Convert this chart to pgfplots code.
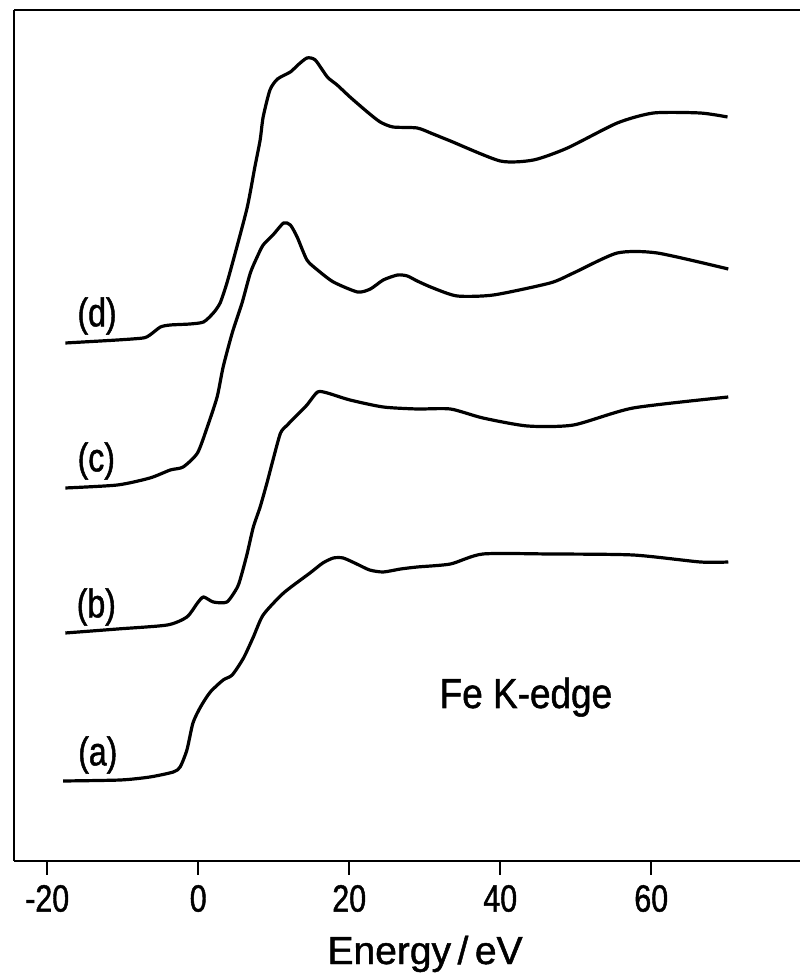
\documentclass[border=0pt]{standalone}
\usepackage{fontspec}
\setmainfont[FakeStretch=0.8, FakeBold=1.2]{Liberation Sans}
\newfontfamily\xlabfont[FakeStretch=1.0, FakeBold=1.2]{Liberation Sans}
\newfontfamily\fefont[FakeStretch=0.88, FakeBold=1.2]{Liberation Sans}
\usepackage{pgfplots}
\pgfplotsset{compat=1.18}
\pgfplotsset{curve/.style={black, line width=1.6pt, mark=none, smooth, tension=0.4}}
\begin{document}
\begin{tikzpicture}
\begin{axis}[name=ax,
  scale only axis, width=393pt, height=425.5pt,
  xmin=-24.4, xmax=79.7, ymin=0, ymax=851,
  axis x line*=box, axis y line*=left,
  axis line style={line width=1pt},
  xtick={-20,0,20,40,60}, xticklabels={-20,0,20,40,60},
  xtick pos=bottom, ytick=\empty,
  tick align=outside, major tick length=7pt,
  tick style={line width=1pt,black},
  xticklabel style={font=\fontsize{19}{21}\selectfont, yshift=-1.5pt},
  xlabel={Energy\,/\,eV},
  xlabel style={font=\xlabfont\fontsize{19.5}{21}\selectfont, at={(axis description cs:0.523,0)}, anchor=base, yshift=-51.5pt},
  clip=false
]
% (a)
\addplot[curve] coordinates {(-17.9,80) (-10.3,81) (-6.4,84) (-3.3,89) (-2.4,94) (-1.5,111) (-0.7,138) (0.3,154) (1.6,169) (3.3,181) (4.5,186) (6.0,203) (7.3,224) (8.6,246) (11.3,268) (14.8,288) (16.5,298) (17.9,303) (19.2,303) (21.0,297) (22.7,291) (24.5,289) (26.8,292) (29.0,294) (33.4,297) (37.7,307) (46.6,307) (57.6,306) (66.5,299) (70.2,299)};
% (b)
\addplot[curve] coordinates {(-17.6,228) (-10.7,232) (-4.1,236) (-1.5,244) (-0.1,258) (0.7,264) (2.0,259) (3.8,259) (5.2,274) (5.8,288) (6.5,308) (7.3,334) (8.2,354) (9.1,378) (9.9,401) (10.9,428) (11.8,436) (13.1,446) (14.4,456) (15.8,469) (17.1,468) (20.1,461) (24.5,454) (29.0,452) (33.4,452) (37.7,443) (43.6,435) (49.7,436) (57.6,453) (70.2,464)};
% (c)
\addplot[curve] coordinates {(-17.6,373) (-10.7,376) (-6.4,383) (-3.7,391) (-2.0,394) (-0.1,408) (1.2,434) (2.5,464) (3.3,494) (4.5,528) (5.8,558) (6.9,588) (7.8,604) (8.6,616) (9.9,626) (11.3,638) (12.2,636) (13.1,624) (14.4,601) (15.8,591) (17.9,579) (21.1,569) (22.8,572) (24.5,581) (26.4,586) (27.7,585) (29.0,580) (31.1,573) (34.3,565) (39.1,566) (46.6,578) (49.7,588) (55.5,608) (60.8,608) (70.2,592)};
% (d)
\addplot[curve] coordinates {(-17.6,518) (-10.7,521) (-7.3,523) (-6.4,526) (-5.0,534) (-3.7,536) (-1.1,537) (0.7,539) (2.0,548) (2.9,558) (3.8,578) (4.9,608) (6.5,654) (7.5,694) (8.2,721) (8.6,744) (9.5,771) (10.5,782) (12.2,789) (13.2,796) (14.4,803) (15.5,801) (17.1,784) (18.4,776) (20.1,764) (22.4,749) (24.1,739) (25.8,734) (29.0,733) (31.1,727) (33.4,720) (40.0,700) (44.4,701) (48.9,713) (55.5,738) (60.3,748) (66.5,748) (70.1,744)};
\node[font=\fontsize{20}{22}\selectfont] at (axis cs:-13.4,545) {(d)};
\node[font=\fontsize{20}{22}\selectfont] at (axis cs:-13.5,400) {(c)};
\node[font=\fontsize{20}{22}\selectfont] at (axis cs:-13.5,254) {(b)};
\node[font=\fontsize{20}{22}\selectfont] at (axis cs:-13.3,106) {(a)};
\node[font=\fefont\fontsize{21}{23}\selectfont, anchor=base] at (axis cs:43.4,153) {Fe K-edge};
\end{axis}
\pgfresetboundingbox
\path[use as bounding box] ([shift={(-7pt,-56.5pt)}]ax.south west) rectangle ([shift={(0pt,5pt)}]ax.north east);
\end{tikzpicture}
\end{document}
